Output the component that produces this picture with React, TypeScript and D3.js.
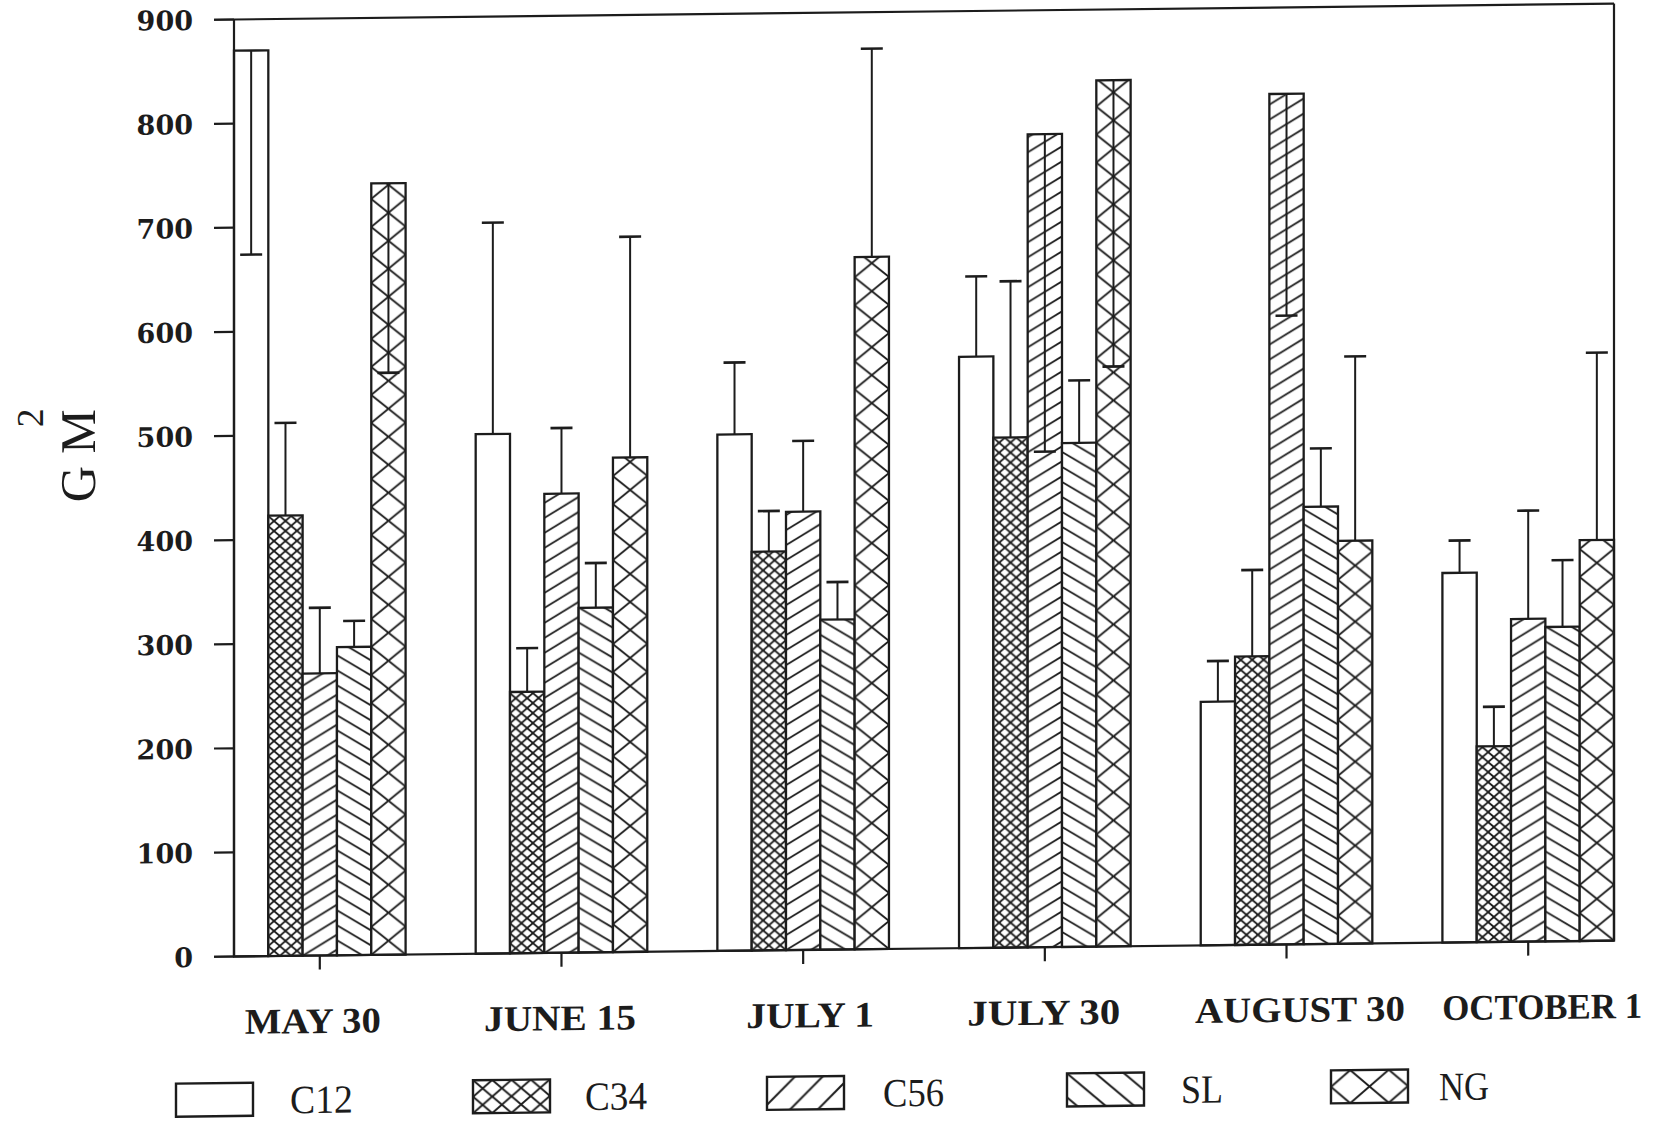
import React from 'react';
import * as d3 from 'd3';

// ---------- data ----------
const dates = ['MAY 30', 'JUNE 15', 'JULY 1', 'JULY 30', 'AUGUST 30', 'OCTOBER 1'];
const seriesNames = ['C12', 'C34', 'C56', 'SL', 'NG'];
const c12 = [870, 499, 496, 568, 234, 355];
const c12Err = [196, 203, 69, 77, 39, 31];
const c34 = [423, 251, 383, 490, 277, 188];
const c34Err = [89, 42, 39, 150, 83, 38];
const c56 = [271, 441, 421, 781, 817, 310];
const c56Err = [63, 63, 68, 305, 213, 104];
const sl = [296, 331, 317, 484, 420, 302];
const slErr = [25, 43, 36, 60, 56, 64];
const ng = [741, 475, 665, 832, 387, 385];
const ngErr = [182, 212, 200, 275, 177, 180];
const yTicks = [0, 100, 200, 300, 400, 500, 600, 700, 800, 900];
const yTitle = 'G M';
const yTitleSup = '2';

// ---------- layout (styling only) ----------
const INK = '#1c1c1c';
const catLabelDx = [-7, -1.5, 7, -1, 13.5, 14];
const catLabelLen = [136, 152, 128, 153, 210, 200];
const legendBoxX = [176, 473, 767, 1067, 1331];
const legendLabelX = [290, 585, 883, 1181, 1439];
const legendLabelLen = [63, 62, 61, 42, 50];

type Spec =
  | { kind: 'none' }
  | { kind: 'lattice'; w: number; h: number; dx?: number }
  | { kind: 'hatch'; w: number; h: number; m: number };

function latticeLines(w: number, h: number) {
  const out: JSX.Element[] = [];
  for (let k = -3; k <= 4; k++) {
    out.push(<line key={'a' + k} x1={-w} y1={-h + k * h} x2={2 * w} y2={2 * h + k * h} />);
    out.push(<line key={'b' + k} x1={-w} y1={h + k * h} x2={2 * w} y2={-2 * h + k * h} />);
  }
  return out;
}

function hatchLines(w: number, h: number, m: number) {
  const out: JSX.Element[] = [];
  const span = Math.abs(m) * 3 * w;
  const kMin = Math.floor(-span / h) - 2;
  const kMax = Math.ceil(span / h) + 2;
  for (let k = kMin; k <= kMax; k++) {
    out.push(<line key={k} x1={-w} y1={-m * w + k * h} x2={2 * w} y2={2 * m * w + k * h} />);
  }
  return out;
}

function Pattern({ id, spec, x, y, sw }: { id: string; spec: Spec; x: number; y: number; sw: number }) {
  if (spec.kind === 'none') return null;
  const dx = spec.kind === 'lattice' && spec.dx ? spec.dx : 0;
  return (
    <pattern id={id} patternUnits="userSpaceOnUse" x={x + dx} y={y} width={spec.w} height={spec.h}>
      <rect width={spec.w} height={spec.h} fill="#fff" />
      <g stroke={INK} strokeWidth={sw} fill="none">
        {spec.kind === 'lattice' ? latticeLines(spec.w, spec.h) : hatchLines(spec.w, spec.h, spec.m)}
      </g>
    </pattern>
  );
}

export default function App() {
  const W = 1661;
  const H = 1121;
  const xLeft = 234;
  const xRight = 1614;
  const yBase = 956.5;
  const yTop = 19.5;

  const x = d3.scaleBand<string>().domain(dates).range([xLeft, xRight]).paddingInner(0.29).paddingOuter(0);
  const xs = d3.scaleBand<string>().domain(seriesNames).range([0, x.bandwidth()]).padding(0);
  const y = d3.scaleLinear().domain([0, 900]).range([yBase, yTop]);
  const bw = xs.bandwidth();

  const values = [c12, c34, c56, sl, ng];
  const errs = [c12Err, c34Err, c56Err, slErr, ngErr];

  const barSpecs: Spec[] = [
    { kind: 'none' },
    { kind: 'lattice', w: bw / 3, h: 10 },
    { kind: 'hatch', w: bw, h: 15, m: -0.6 },
    { kind: 'hatch', w: bw, h: 15, m: 0.6 },
    { kind: 'lattice', w: bw, h: 28 },
  ];
  const legW = 77;
  const legH = 33;
  const legY = 1083;
  const legendSpecs: Spec[] = [
    { kind: 'none' },
    { kind: 'lattice', w: legW / 4, h: legH / 2 },
    { kind: 'hatch', w: legW, h: 28, m: -1 },
    { kind: 'hatch', w: legW, h: 24, m: 0.85 },
    { kind: 'lattice', w: legW / 2, h: legH, dx: -legW / 4 },
  ];

  const bars: { s: number; g: number; bx: number; v: number; e: number }[] = [];
  seriesNames.forEach((name, s) => {
    dates.forEach((d, g) => {
      bars.push({ s, g, bx: (x(d) as number) + (xs(name) as number), v: values[s][g], e: errs[s][g] });
    });
  });

  const skew = Math.atan(0.0115) * (180 / Math.PI);
  const capW = 22;

  return (
    <svg width={W} height={H} style={{ position: 'absolute', left: 0, top: 0 }} xmlns="http://www.w3.org/2000/svg">
      <rect width={W} height={H} fill="#fff" />
      <g transform={`translate(0,${(0.0115 * xLeft).toFixed(3)}) skewY(${-skew})`}>
        <defs>
          {bars.map((b) => (
            <Pattern key={`p${b.s}-${b.g}`} id={`p${b.s}-${b.g}`} spec={barSpecs[b.s]} x={b.bx} y={yBase} sw={1.8} />
          ))}
          {seriesNames.map((n, s) => (
            <Pattern key={`lp${s}`} id={`lp${s}`} spec={legendSpecs[s]} x={legendBoxX[s]} y={legY} sw={2} />
          ))}
        </defs>

        {/* bars */}
        <g>
          {bars.map((b) => (
            <rect
              key={`b${b.s}-${b.g}`}
              x={b.bx}
              y={y(b.v)}
              width={bw}
              height={y(0) - y(b.v)}
              fill={barSpecs[b.s].kind === 'none' ? '#fff' : `url(#p${b.s}-${b.g})`}
              stroke={INK}
              strokeWidth={2.3}
            />
          ))}
        </g>

        {/* error bars */}
        <g stroke={INK} strokeWidth={2}>
          {bars.map((b) => {
            const cx = b.bx + bw / 2;
            const down = b.v + b.e > 900;
            const end = down ? b.v - b.e : b.v + b.e;
            return (
              <g key={`e${b.s}-${b.g}`}>
                <line x1={cx} x2={cx} y1={y(b.v)} y2={y(end)} />
                <line x1={cx - capW / 2} x2={cx + capW / 2} y1={y(end)} y2={y(end)} strokeWidth={2.6} />
              </g>
            );
          })}
        </g>

        {/* frame */}
        <g stroke={INK} strokeWidth={2.2} fill="none">
          <line x1={xLeft - 20} x2={xRight} y1={yTop} y2={yTop} />
          <line x1={xLeft - 20} x2={xRight} y1={yBase} y2={yBase} />
          <line x1={xLeft} x2={xLeft} y1={yTop} y2={yBase} />
          <line x1={xRight} x2={xRight} y1={yTop} y2={yBase} />
          {yTicks.map((t) => (
            <line key={t} x1={xLeft - 20} x2={xLeft} y1={y(t)} y2={y(t)} />
          ))}
          {dates.map((d) => {
            const cx = (x(d) as number) + x.bandwidth() / 2;
            return <line key={d} x1={cx} x2={cx} y1={yBase} y2={yBase + 14} />;
          })}
        </g>

        {/* y tick labels */}
        <g fontFamily="'DejaVu Serif', serif" fontWeight="bold" fontSize={27} fill={INK} textAnchor="end">
          {yTicks.map((t) => (
            <text key={t} x={193} y={y(t) + 10}>
              {t}
            </text>
          ))}
        </g>

        {/* y title: rotated, superscript raised to the left */}
        <text
          transform="translate(95,454) rotate(-90)"
          fontFamily="'Liberation Serif', serif"
          fill={INK}
          fontSize={50}
          textAnchor="start"
        >
          <tspan x={-46.5} y={0}>
            {yTitle}
          </tspan>
          <tspan x={29} y={-52} fontSize={38}>
            {yTitleSup}
          </tspan>
        </text>

        {/* category labels */}
        <g fontFamily="'Liberation Serif', serif" fontWeight="bold" fontSize={36} fill={INK} textAnchor="middle">
          {dates.map((d, i) => (
            <text
              key={d}
              x={(x(d) as number) + x.bandwidth() / 2 + catLabelDx[i]}
              y={1034}
              textLength={catLabelLen[i]}
              lengthAdjust="spacingAndGlyphs"
            >
              {d}
            </text>
          ))}
        </g>

        {/* legend */}
        <g>
          {seriesNames.map((n, s) => (
            <g key={n}>
              <rect
                x={legendBoxX[s]}
                y={legY}
                width={legW}
                height={legH}
                fill={legendSpecs[s].kind === 'none' ? '#fff' : `url(#lp${s})`}
                stroke={INK}
                strokeWidth={2.4}
              />
              <text
                x={legendLabelX[s]}
                y={1114}
                fontFamily="'Liberation Serif', serif"
                fontSize={40}
                fill={INK}
                textLength={legendLabelLen[s]}
                lengthAdjust="spacingAndGlyphs"
              >
                {n}
              </text>
            </g>
          ))}
        </g>
      </g>
    </svg>
  );
}
